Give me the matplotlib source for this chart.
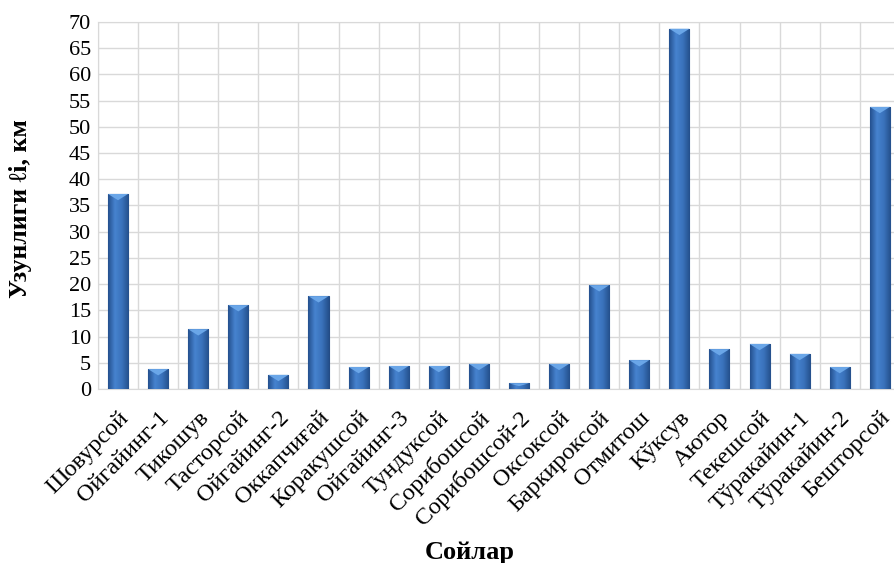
import numpy as np
import matplotlib
matplotlib.use('Agg')
import matplotlib.pyplot as plt
from matplotlib.colors import LinearSegmentedColormap

# -----------------------
# DATA
# -----------------------
streams = ["Шовурсой", "Ойгайинг-1", "Тикошув", "Тасторсой", "Ойгайинг-2",
           "Оккапчиғай", "Коракушсой", "Ойгайинг-3", "Тундуксой", "Сорибошсой",
           "Сорибошсой-2", "Оксоксой", "Баркироксой", "Отмитош", "Кўксув",
           "Аютор", "Текешсой", "Тўракайин-1", "Тўракайин-2", "Бешторсой"]
lengths_km = [37.2, 3.8, 11.4, 16.0, 2.7,
              17.7, 4.2, 4.4, 4.4, 4.8,
              1.1, 4.8, 19.8, 5.5, 68.7,
              7.6, 8.6, 6.7, 4.2, 53.8]
y_ticks = list(range(0, 75, 5))

plt.rcParams['font.family'] = ['Liberation Serif', 'DejaVu Serif']

fig = plt.figure(figsize=(8.94, 5.63), dpi=100)
ax = fig.add_axes([0.1096, 0.309, 0.897, 0.652])

x = np.arange(len(streams))
bars = ax.bar(x, lengths_km, width=0.5, color="#3a70b8", edgecolor="#244c85",
              linewidth=0.8, zorder=3)

# horizontal gradient on each bar for the bevelled look
cmap = LinearSegmentedColormap.from_list(
    "bevel", ["#24508e", "#4683cf", "#3a72bb", "#24508c"])
grad = np.linspace(0, 1, 64).reshape(1, -1)
for b in bars:
    bx, bw, bh = b.get_x(), b.get_width(), b.get_height()
    im = ax.imshow(grad, cmap=cmap, aspect='auto', zorder=3.5,
                   extent=[bx, bx + bw, 0, bh])
    im.set_clip_path(b)
    cap = min(1.2, bh * 0.5)
    ax.fill([bx, bx + bw, bx + bw / 2], [bh, bh, bh - cap],
            color="#6aa6e8", zorder=4, lw=0)

ax.set_xlim(-0.5, len(streams) - 0.5)
ax.set_ylim(0, 70)
ax.set_yticks(y_ticks)
ax.tick_params(axis='y', labelsize=16, length=0, pad=5)
ax.set_xticks(x)
ax.set_xticklabels(streams, rotation=45, ha='right', rotation_mode='anchor',
                   fontsize=17.5)
ax.tick_params(axis='x', length=0, pad=13)

# grid: horizontal at ticks, vertical between categories
ax.set_xticks(np.arange(-0.5, len(streams), 1), minor=True)
ax.grid(axis='y', color="#d9d9d9", lw=1, zorder=0)
ax.grid(axis='x', which='minor', color="#d9d9d9", lw=1, zorder=0)
ax.tick_params(axis='x', which='minor', length=0)
for s in ax.spines.values():
    s.set_color("#d9d9d9")

ax.set_ylabel("Узунлиги ℓi, км", fontsize=18.5, fontweight='bold')
ax.yaxis.set_label_coords(-0.082, 0.493)
fig.text(0.526, 0.018, "Сойлар", fontsize=19, fontweight='bold',
         ha='center', va='center')

fig.savefig("out.png", dpi=100)
